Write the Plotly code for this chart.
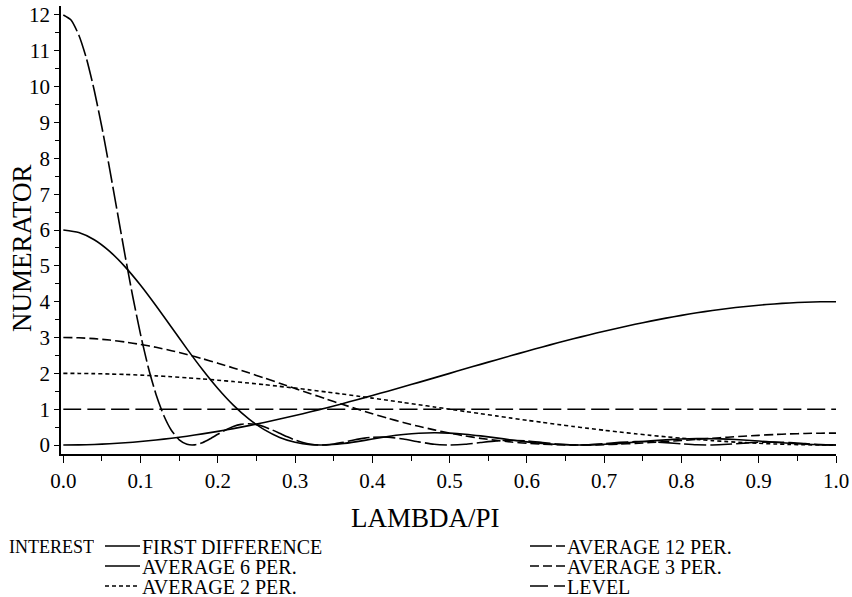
import plotly.graph_objects as go

lambda_pi = [0.00, 0.02, 0.04, 0.06, 0.08, 0.10, 0.12, 0.14, 0.16, 0.18,
             0.20, 0.22, 0.24, 0.26, 0.28, 0.30, 0.32, 0.34, 0.36, 0.38,
             0.40, 0.42, 0.44, 0.46, 0.48, 0.50, 0.52, 0.54, 0.56, 0.58,
             0.60, 0.62, 0.64, 0.66, 0.68, 0.70, 0.72, 0.74, 0.76, 0.78,
             0.80, 0.82, 0.84, 0.86, 0.88, 0.90, 0.92, 0.94, 0.96, 0.98, 1.00]

first_difference = [0, 0.004, 0.016, 0.035, 0.063, 0.098, 0.140, 0.190, 0.247, 0.311,
                    0.382, 0.459, 0.542, 0.631, 0.725, 0.824, 0.928, 1.036, 1.148, 1.264,
                    1.382, 1.503, 1.625, 1.749, 1.874, 2.0, 2.126, 2.251, 2.375, 2.497,
                    2.618, 2.736, 2.852, 2.964, 3.072, 3.176, 3.275, 3.369, 3.458, 3.541,
                    3.618, 3.689, 3.753, 3.810, 3.860, 3.902, 3.937, 3.965, 3.984, 3.996, 4.0]

# the 12-period curve is steep, so it is read on a finer grid up to 0.40
lambda_pi_12 = [0.00, 0.01, 0.02, 0.03, 0.04, 0.05, 0.06, 0.07, 0.08, 0.09,
                0.10, 0.11, 0.12, 0.13, 0.14, 0.15, 0.16, 0.17, 0.18, 0.19,
                0.20, 0.21, 0.22, 0.23, 0.24, 0.25, 0.26, 0.27, 0.28, 0.29,
                0.30, 0.31, 0.32, 0.33, 0.34, 0.35, 0.36, 0.37, 0.38, 0.39,
                0.40, 0.42, 0.44, 0.46, 0.48, 0.50, 0.52, 0.54, 0.56, 0.58,
                0.60, 0.62, 0.64, 0.66, 0.68, 0.70, 0.72, 0.74, 0.76, 0.78,
                0.80, 0.82, 0.84, 0.86, 0.88, 0.90, 0.92, 0.94, 0.96, 0.98, 1.00]

average_12 = [12, 11.86, 11.44, 10.78, 9.90, 8.86, 7.70, 6.49, 5.28, 4.13,
              3.08, 2.165, 1.41, 0.823, 0.406, 0.146, 0.021, 0.005, 0.066, 0.175,
              0.302, 0.422, 0.518, 0.577, 0.593, 0.569, 0.510, 0.425, 0.328, 0.229,
              0.140, 0.069, 0.022, 0.001, 0.005, 0.029, 0.067, 0.112, 0.157, 0.194,
              0.218, 0.221, 0.168, 0.089, 0.024, 0.0, 0.021, 0.069, 0.115, 0.133,
              0.115, 0.072, 0.027, 0.002, 0.007, 0.036, 0.073, 0.096, 0.093, 0.067,
              0.032, 0.006, 0.001, 0.020, 0.051, 0.077, 0.084, 0.069, 0.039, 0.011, 0.0]

average_6 = [6, 5.929, 5.728, 5.403, 4.972, 4.458, 3.886, 3.286, 2.684, 2.108,
             1.579, 1.115, 0.730, 0.429, 0.213, 0.077, 0.011, 0.003, 0.036, 0.096,
             0.167, 0.236, 0.292, 0.330, 0.343, 0.333, 0.303, 0.256, 0.200, 0.142,
             0.088, 0.044, 0.015, 0.001, 0.003, 0.020, 0.047, 0.080, 0.115, 0.145,
             0.167, 0.178, 0.177, 0.164, 0.141, 0.112, 0.079, 0.048, 0.023, 0.006, 0.0]

average_3 = [3, 2.992, 2.968, 2.930, 2.875, 2.807, 2.727, 2.632, 2.526, 2.410,
             2.285, 2.152, 2.014, 1.871, 1.725, 1.578, 1.431, 1.286, 1.143, 1.005,
             0.873, 0.747, 0.630, 0.522, 0.423, 0.333, 0.255, 0.187, 0.130, 0.084,
             0.049, 0.023, 0.007, 0.000, 0.002, 0.010, 0.025, 0.045, 0.070, 0.098,
             0.127, 0.158, 0.189, 0.219, 0.247, 0.271, 0.293, 0.310, 0.323, 0.331, 0.333]

average_2 = [2.0, 1.998, 1.992, 1.982, 1.969, 1.951, 1.930, 1.905, 1.876, 1.844,
             1.809, 1.771, 1.729, 1.685, 1.637, 1.588, 1.536, 1.482, 1.426, 1.368,
             1.309, 1.249, 1.187, 1.125, 1.063, 1.0, 0.937, 0.875, 0.813, 0.751,
             0.691, 0.632, 0.574, 0.518, 0.464, 0.412, 0.363, 0.315, 0.271, 0.229,
             0.191, 0.156, 0.124, 0.095, 0.070, 0.049, 0.031, 0.018, 0.008, 0.002, 0.0]

level = [1.0] * len(lambda_pi)

x_ticks = [0.0, 0.1, 0.2, 0.3, 0.4, 0.5, 0.6, 0.7, 0.8, 0.9, 1.0]
x_tick_labels = ["0.0", "0.1", "0.2", "0.3", "0.4", "0.5", "0.6", "0.7", "0.8", "0.9", "1.0"]
y_ticks = list(range(0, 13))
y_tick_labels = [str(v) for v in y_ticks]

x_title = "LAMBDA/PI"
y_title = "NUMERATOR"
legend_title = "INTEREST"
# (name, x values, y values, dash, legend column, legend row)
series = [
    ("FIRST DIFFERENCE", lambda_pi, first_difference, "solid", 0, 0),
    ("AVERAGE 12 PER.", lambda_pi_12, average_12, "22px,4px", 1, 0),
    ("AVERAGE 6 PER.", lambda_pi, average_6, "solid", 0, 1),
    ("AVERAGE 3 PER.", lambda_pi, average_3, "9px,4px", 1, 1),
    ("AVERAGE 2 PER.", lambda_pi, average_2, "4px,3px", 0, 2),
    ("LEVEL", lambda_pi, level, "18px,6px", 1, 2),
]

FONT = "Liberation Serif, Times New Roman, serif"

W, H = 852, 597
ML, MR, MT, MB = 61, 16, 6, 143
PW, PH = W - ML - MR, H - MT - MB


def px_x(px):
    return (px - ML) / PW


def px_y(py):
    return (H - MB - py) / PH


fig = go.Figure()
for name, xs, vals, dash, col, row in series:
    fig.add_trace(go.Scatter(
        x=xs, y=vals, mode="lines", name=name, showlegend=False,
        line=dict(color="black", width=1.6, dash=dash, shape="spline", smoothing=0.6),
    ))

annotations = [
    dict(text=x_title, x=px_x(425), y=px_y(518), xref="paper", yref="paper",
         xanchor="center", yanchor="middle", showarrow=False,
         font=dict(family=FONT, size=27, color="black")),
    dict(text=y_title, x=px_x(22), y=px_y(248), xref="paper", yref="paper",
         xanchor="center", yanchor="middle", showarrow=False, textangle=-90,
         font=dict(family=FONT, size=27, color="black")),
]

# legend drawn as text + swatches below the plot (compact rows like the original)
LEG_ROW0, LEG_ROW_GAP = 546, 20
LEG_BOX_H = 19
LEG_COL_X = [105, 530]
SWATCH_W = 35
annotations.append(dict(
    text=legend_title, x=px_x(8), y=px_y(LEG_ROW0), xref="paper", yref="paper",
    xanchor="left", yanchor="middle", showarrow=False,
    height=LEG_BOX_H, borderpad=0,
    font=dict(family=FONT, size=18, color="black"),
))
shapes = []
for name, xs, vals, dash, col, row in series:
    cy = LEG_ROW0 + row * LEG_ROW_GAP
    x0 = LEG_COL_X[col]
    shapes.append(dict(
        type="line", xref="paper", yref="paper",
        x0=px_x(x0), x1=px_x(x0 + SWATCH_W), y0=px_y(cy), y1=px_y(cy),
        line=dict(color="black", width=1.5, dash=dash),
    ))
    annotations.append(dict(
        text=name, x=px_x(x0 + SWATCH_W + 1), y=px_y(cy), xref="paper", yref="paper",
        xanchor="left", yanchor="middle", showarrow=False,
        height=LEG_BOX_H, borderpad=0,
        font=dict(family=FONT, size=20, color="black"),
    ))

fig.update_layout(
    width=W, height=H,
    margin=dict(l=ML, r=MR, t=MT, b=MB, autoexpand=False),
    paper_bgcolor="white", plot_bgcolor="white",
    font=dict(family=FONT, color="black", size=20),
    showlegend=False,
    annotations=annotations,
    shapes=shapes,
    xaxis=dict(
        range=[-0.003, 1.0], automargin=False,
        tickmode="array", tickvals=x_ticks, ticktext=x_tick_labels,
        ticks="outside", ticklen=7, tickwidth=1.3, tickcolor="black",
        minor=dict(dtick=0.05, ticks="outside", ticklen=5, tickwidth=1.2, tickcolor="black"),
        showline=True, linecolor="black", linewidth=1.5,
        showgrid=False, zeroline=False,
        tickfont=dict(size=21, family=FONT),
    ),
    yaxis=dict(
        range=[-0.25, 12.25], automargin=False,
        tickmode="array", tickvals=y_ticks, ticktext=y_tick_labels,
        ticks="outside", ticklen=5, tickwidth=1.3, tickcolor="black",
        minor=dict(dtick=0.5, ticks="outside", ticklen=4, tickwidth=1.2, tickcolor="black"),
        showline=True, linecolor="black", linewidth=1.5,
        showgrid=False, zeroline=False,
        tickfont=dict(size=21, family=FONT),
    ),
)

fig.write_html(
    "out.html",
    config={"displayModeBar": False},
    post_script="document.body.style.margin='0';document.body.style.overflow='hidden';",
)
